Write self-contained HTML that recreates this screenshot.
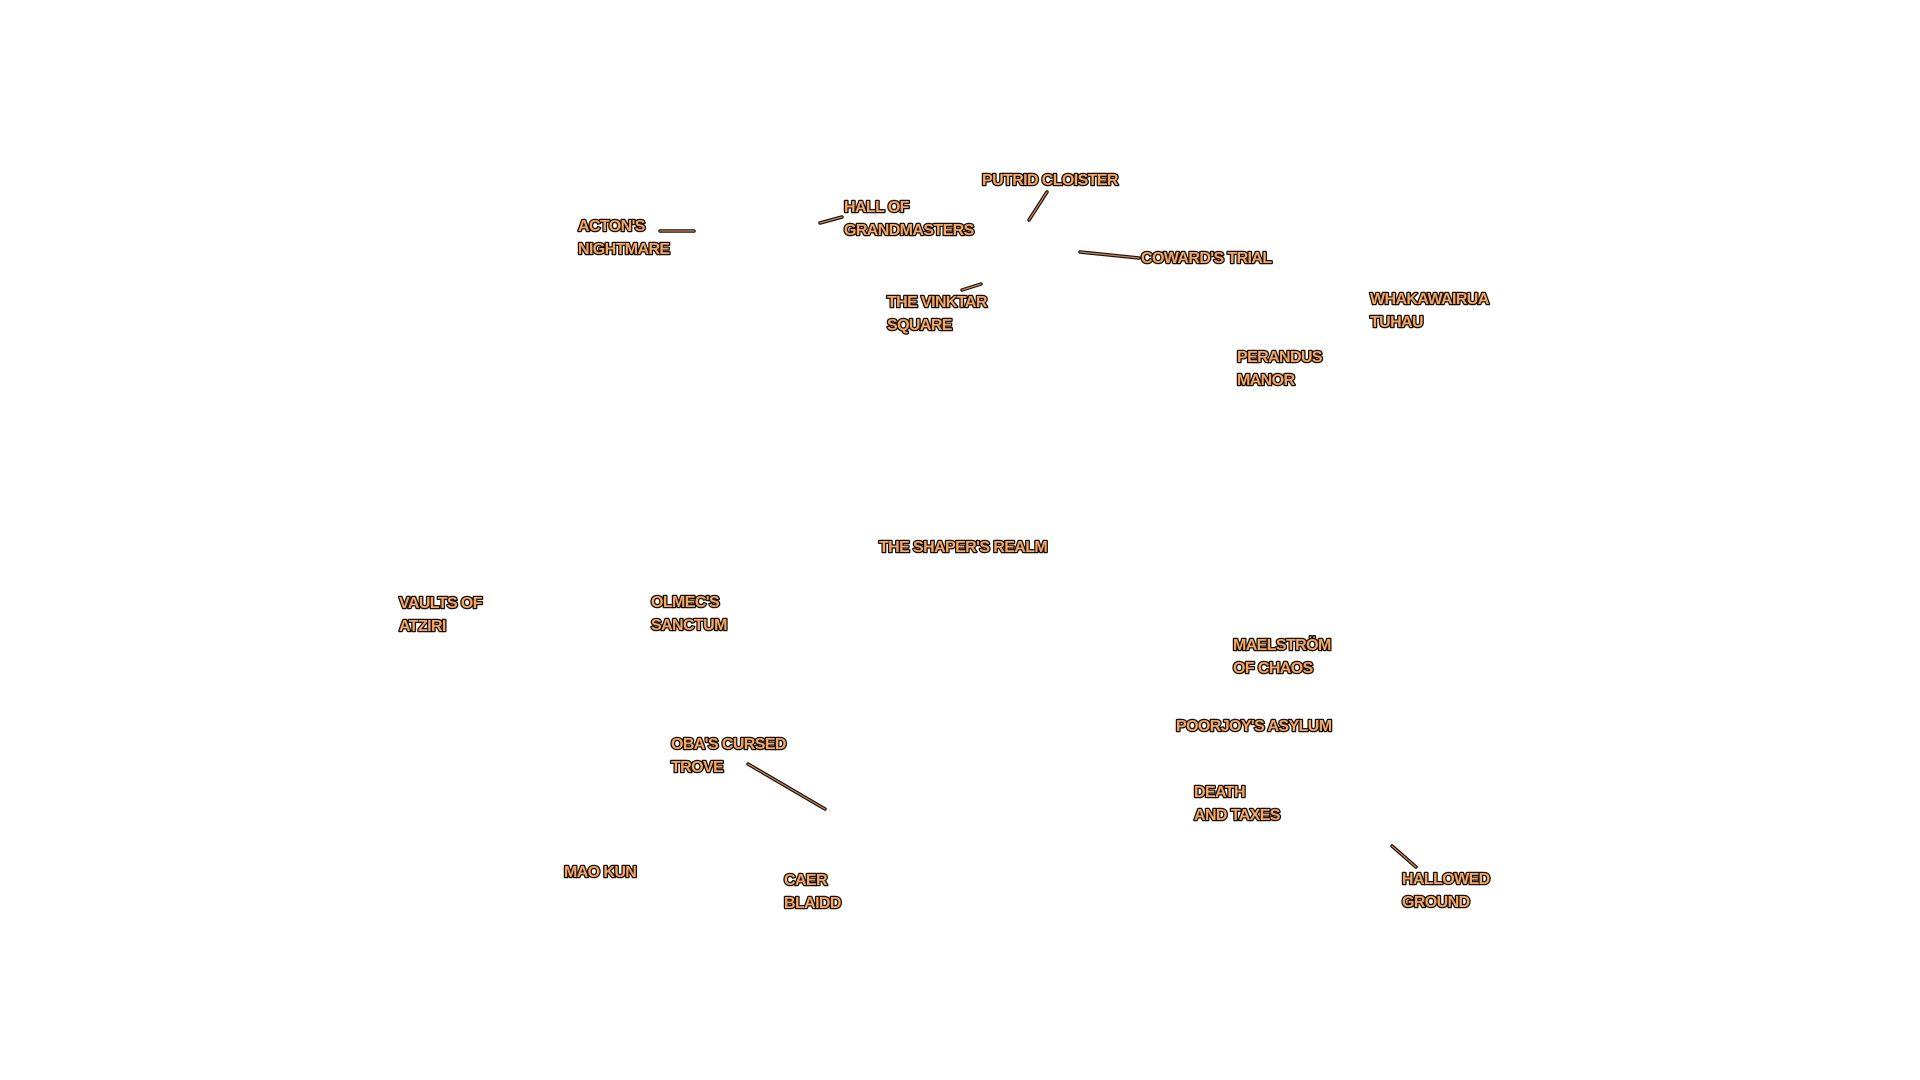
<!DOCTYPE html>
<html><head><meta charset="utf-8"><style>
html,body{margin:0;padding:0;background:#fff;width:1920px;height:1080px;overflow:hidden}
svg text{font-family:"Liberation Sans",sans-serif;font-weight:bold;font-size:16px;letter-spacing:-0.6px;fill:#f2a868;stroke:#1a1008;stroke-width:2.6px;paint-order:stroke;stroke-linejoin:round}
svg line{stroke:#1a1008;stroke-width:3.5px;stroke-linecap:round}
svg line.in{stroke:#c8885a;stroke-width:1.2px}
</style></head><body>
<svg width="1920" height="1080" xmlns="http://www.w3.org/2000/svg">
<g>
<line x1="660" y1="231" x2="694" y2="231"/><line class="in" x1="660" y1="231" x2="694" y2="231"/>
<line x1="820" y1="223" x2="842" y2="217"/><line class="in" x1="820" y1="223" x2="842" y2="217"/>
<line x1="1029" y1="220" x2="1047" y2="192"/><line class="in" x1="1029" y1="220" x2="1047" y2="192"/>
<line x1="1080" y1="252" x2="1139" y2="258"/><line class="in" x1="1080" y1="252" x2="1139" y2="258"/>
<line x1="962" y1="290" x2="981" y2="284"/><line class="in" x1="962" y1="290" x2="981" y2="284"/>
<line x1="748" y1="764" x2="825" y2="809"/><line class="in" x1="748" y1="764" x2="825" y2="809"/>
<line x1="1392" y1="846" x2="1416" y2="867"/><line class="in" x1="1392" y1="846" x2="1416" y2="867"/>
</g>
<text x="578" y="231">ACTON'S</text><text x="578" y="254">NIGHTMARE</text>
<text x="844" y="212">HALL OF</text><text x="844" y="235">GRANDMASTERS</text>
<text x="982" y="185">PUTRID CLOISTER</text>
<text x="1141" y="263">COWARD'S TRIAL</text>
<text x="887" y="307">THE VINKTAR</text><text x="887" y="330">SQUARE</text>
<text x="1370" y="304">WHAKAWAIRUA</text><text x="1370" y="327">TUHAU</text>
<text x="1237" y="362">PERANDUS</text><text x="1237" y="385">MANOR</text>
<text x="879" y="552">THE SHAPER'S REALM</text>
<text x="399" y="608">VAULTS OF</text><text x="399" y="631">ATZIRI</text>
<text x="651" y="607">OLMEC'S</text><text x="651" y="630">SANCTUM</text>
<text x="1233" y="650">MAELSTRÖM</text><text x="1233" y="673">OF CHAOS</text>
<text x="1176" y="731">POORJOY'S ASYLUM</text>
<text x="671" y="749">OBA'S  CURSED</text><text x="671" y="772">TROVE</text>
<text x="1194" y="797">DEATH</text><text x="1194" y="820">AND TAXES</text>
<text x="564" y="877">MAO KUN</text>
<text x="784" y="885">CAER</text><text x="784" y="908">BLAIDD</text>
<text x="1402" y="884">HALLOWED</text><text x="1402" y="907">GROUND</text>
</svg>
</body></html>
